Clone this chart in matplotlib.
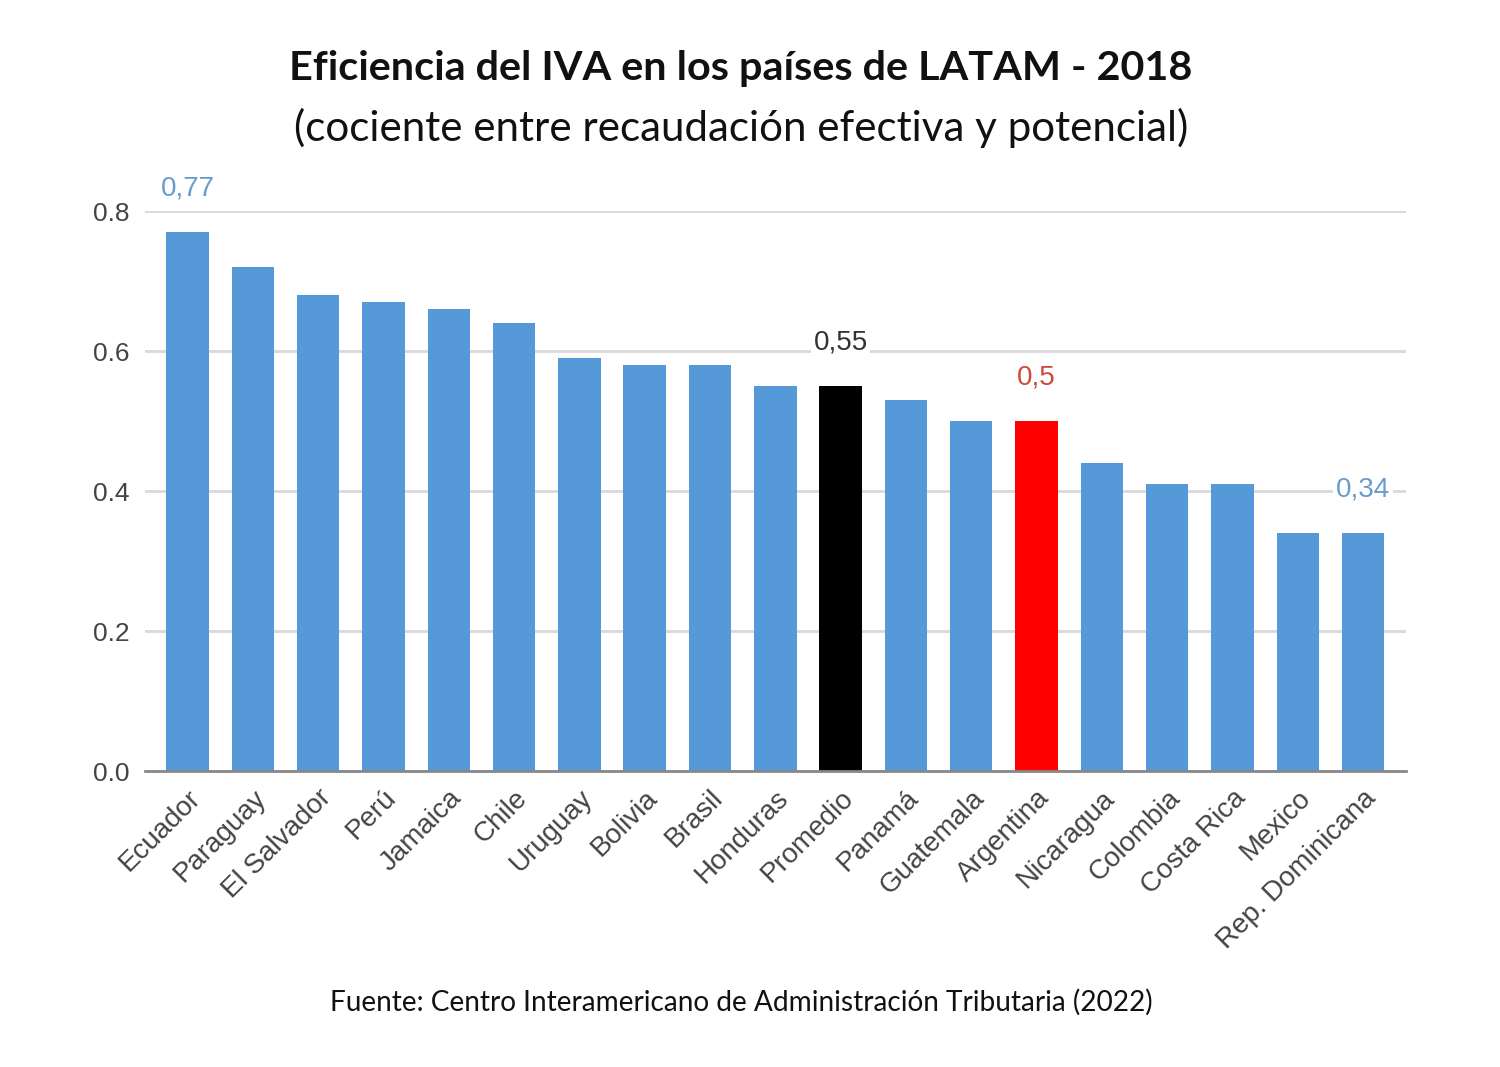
import matplotlib
matplotlib.use("Agg")
import matplotlib.pyplot as plt

paises = ["Ecuador", "Paraguay", "El Salvador", "Perú", "Jamaica", "Chile", "Uruguay",
          "Bolivia", "Brasil", "Honduras", "Promedio", "Panamá", "Guatemala", "Argentina",
          "Nicaragua", "Colombia", "Costa Rica", "Mexico", "Rep. Dominicana"]
eficiencia = [0.77, 0.72, 0.68, 0.67, 0.66, 0.64, 0.59, 0.58, 0.58, 0.55, 0.55,
              0.53, 0.50, 0.50, 0.44, 0.41, 0.41, 0.34, 0.34]
yticks = [0.0, 0.2, 0.4, 0.6, 0.8]
ytick_labels = ["0.0", "0.2", "0.4", "0.6", "0.8"]
etiquetas = {"Ecuador": "0,77", "Promedio": "0,55", "Argentina": "0,5", "Rep. Dominicana": "0,34"}

BLUE = "#5599d8"
colores = []
for p in paises:
    if p == "Promedio":
        colores.append("#000000")
    elif p == "Argentina":
        colores.append("#ff0000")
    else:
        colores.append(BLUE)
label_colors = {"Ecuador": "#6a9ccb", "Promedio": "#333333", "Argentina": "#cc4a3a",
                "Rep. Dominicana": "#6a9ccb"}

fig = plt.figure(figsize=(15, 10.67), dpi=100)
ax = fig.add_axes([0.0967, 0.2774, 0.8403, 0.5248])

x = list(range(len(paises)))
ax.bar(x, eficiencia, width=0.65, color=colores, zorder=3)
ax.set_xlim(-0.65, len(paises) - 0.35)
ax.set_ylim(0, 0.8)
ax.set_yticks(yticks)
ax.set_yticklabels(ytick_labels, fontsize=19, color="#444444", family="Liberation Sans")
ax.set_xticks(x)
ax.set_xticklabels(paises, rotation=45, ha="right", rotation_mode="anchor",
                   fontsize=20, color="#444444", family="Liberation Sans")
ax.tick_params(axis="both", length=0)
ax.tick_params(axis="y", pad=11)
ax.tick_params(axis="x", pad=10)
ax.grid(axis="y", color="#d9d9d9", linewidth=2, zorder=0)
for s in ["top", "right", "left"]:
    ax.spines[s].set_visible(False)
ax.spines["bottom"].set_color("#888888")
ax.spines["bottom"].set_linewidth(2)
ax.spines["bottom"].set_zorder(4)

for i, p in enumerate(paises):
    if p in etiquetas:
        ax.annotate(etiquetas[p], (i, eficiencia[i]), xytext=(0, 31), textcoords="offset points",
                    ha="center", va="center", fontsize=20, color=label_colors[p],
                    family="Liberation Sans", annotation_clip=False, zorder=5,
                    bbox=dict(boxstyle="square,pad=0.1", fc="white", ec="none"))

fig.text(0.494, 0.936, "Eficiencia del IVA en los países de LATAM - 2018", ha="center", va="center",
         fontsize=29.8, fontweight="bold", family="Lato", color="#111111")
fig.text(0.494, 0.880, "(cociente entre recaudación efectiva y potencial)", ha="center", va="center",
         fontsize=30.3, family="Lato", color="#111111")
fig.text(0.494, 0.061, "Fuente: Centro Interamericano de Administración Tributaria (2022)", ha="center",
         va="center", fontsize=20.2, family="Lato", color="#111111")

fig.savefig("out.png", dpi=100, facecolor="white")
